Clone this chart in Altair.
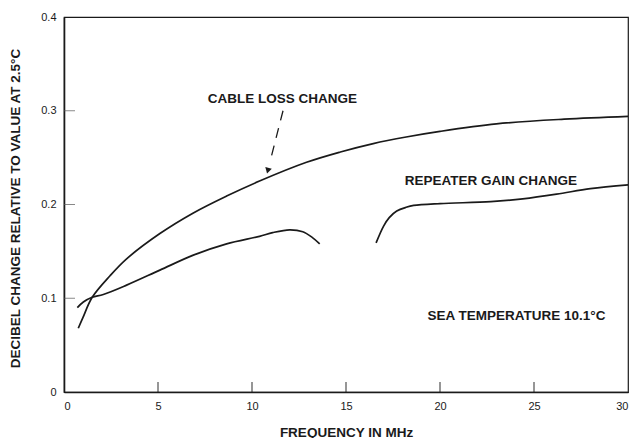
import altair as alt
import pandas as pd

# Cable loss change vs frequency (dB relative to the value at 2.5 °C)
cable_freq = [0.76, 1.0, 1.5, 2.45, 3.33, 5.1, 6.88, 8.65, 10.4, 12.9, 14.7, 16.45, 18.2, 20.0, 23.0, 26.6, 30.0]
cable_db = [0.068, 0.079, 0.101, 0.124, 0.142, 0.169, 0.191, 0.209, 0.225, 0.245, 0.256, 0.265, 0.272, 0.278, 0.286, 0.291, 0.294]

# Repeater gain change, lower band
rep_low_freq = [0.71, 1.03, 1.5, 2.09, 3.33, 5.1, 6.88, 8.65, 10.4, 11.1, 12.0, 12.7, 13.2, 13.6]
rep_low_db = [0.090, 0.096, 0.101, 0.104, 0.114, 0.130, 0.146, 0.158, 0.166, 0.170, 0.173, 0.171, 0.165, 0.158]

# Repeater gain change, upper band
rep_high_freq = [16.6, 17.0, 17.3, 17.7, 18.2, 18.6, 20.0, 22.7, 24.4, 26.2, 28.0, 30.0]
rep_high_db = [0.159, 0.177, 0.186, 0.193, 0.197, 0.199, 0.201, 0.203, 0.206, 0.211, 0.217, 0.221]

x_tick_values = [0, 5, 10, 15, 20, 25, 30]
y_tick_values = [0, 0.1, 0.2, 0.3, 0.4]
x_inner_ticks = [5, 10, 15, 20, 25]
y_inner_ticks = [0.1, 0.2, 0.3]

annotation_text = ["CABLE LOSS CHANGE", "REPEATER GAIN CHANGE", "SEA TEMPERATURE 10.1°C"]
annotation_freq = [11.62, 22.71, 24.07]
annotation_db = [0.313, 0.2255, 0.0812]

INK = "#1a1a1a"
FONT = "Liberation Sans"

curves = pd.DataFrame({
    "freq": cable_freq + rep_low_freq + rep_high_freq,
    "db": cable_db + rep_low_db + rep_high_db,
    "trace": ["cable"] * len(cable_freq) + ["rep_low"] * len(rep_low_freq) + ["rep_high"] * len(rep_high_freq),
})

x_scale = alt.Scale(domain=[0, 30], nice=False, zero=False)
y_scale = alt.Scale(domain=[0, 0.4], nice=False)

x_axis = alt.Axis(
    values=x_tick_values, ticks=False, grid=False, labelPadding=8,
    title="FREQUENCY IN MHz", titleY=44, titleBaseline="alphabetic",
)
y_axis = alt.Axis(
    values=y_tick_values, ticks=False, grid=False, labelPadding=8,
    labelExpr="datum.value == 0 ? '0' : format(datum.value, '.1f')",
    title="DECIBEL CHANGE RELATIVE TO VALUE AT 2.5°C",
    titleX=-49, titleY=191, titleAngle=-90, titleAlign="center", titleBaseline="middle",
)

lines = alt.Chart(curves).mark_line(
    color=INK, strokeWidth=1.7, interpolate="catmull-rom"
).encode(
    x=alt.X("freq:Q", scale=x_scale, axis=x_axis),
    y=alt.Y("db:Q", scale=y_scale, axis=y_axis),
    detail="trace:N",
)

# Inward-pointing tick marks on both axes
xt = alt.Chart(pd.DataFrame({"freq": x_inner_ticks, "db": [0] * len(x_inner_ticks)})).mark_tick(
    orient="vertical", size=10, yOffset=-5, thickness=1.3, color=INK
).encode(x=alt.X("freq:Q", scale=x_scale), y=alt.Y("db:Q", scale=y_scale))

yt = alt.Chart(pd.DataFrame({"freq": [0] * len(y_inner_ticks), "db": y_inner_ticks})).mark_tick(
    orient="horizontal", size=11, xOffset=5.5, thickness=1, color="#555555"
).encode(x=alt.X("freq:Q", scale=x_scale), y=alt.Y("db:Q", scale=y_scale))

# Dashed leader arrow pointing at the cable loss curve
arrow_line = alt.Chart(pd.DataFrame({"f1": [11.65], "d1": [0.300], "f2": [10.95], "d2": [0.245]})).mark_rule(
    color=INK, strokeWidth=1.3, strokeDash=[10, 8]
).encode(
    x=alt.X("f1:Q", scale=x_scale), y=alt.Y("d1:Q", scale=y_scale),
    x2="f2:Q", y2="d2:Q",
)
arrow_head = alt.Chart(pd.DataFrame({"freq": [10.84], "db": [0.236]})).mark_point(
    shape="triangle-down", size=45, filled=True, color=INK, opacity=1, angle=15
).encode(x=alt.X("freq:Q", scale=x_scale), y=alt.Y("db:Q", scale=y_scale))

labels = alt.Chart(pd.DataFrame({
    "label": annotation_text, "freq": annotation_freq, "db": annotation_db,
})).mark_text(
    font=FONT, fontSize=13.5, fontWeight="bold", color=INK, align="center", baseline="middle"
).encode(
    x=alt.X("freq:Q", scale=x_scale), y=alt.Y("db:Q", scale=y_scale), text="label:N"
)

chart = alt.layer(lines, xt, yt, arrow_line, arrow_head, labels).properties(
    width=564, height=375,
    autosize=alt.AutoSizeParams(type="none"),
    padding={"left": 64, "top": 17, "right": 6, "bottom": 46},
    background="white",
).configure_view(
    stroke=INK, strokeWidth=1.2,
).configure_axis(
    domainColor=INK, domainWidth=1.6,
    labelFont=FONT, labelFontSize=11, labelColor=INK,
    titleFont=FONT, titleFontSize=13.5, titleFontWeight="bold", titleColor=INK,
)

chart.save("out.html", embed_options={"renderer": "svg", "actions": False})
